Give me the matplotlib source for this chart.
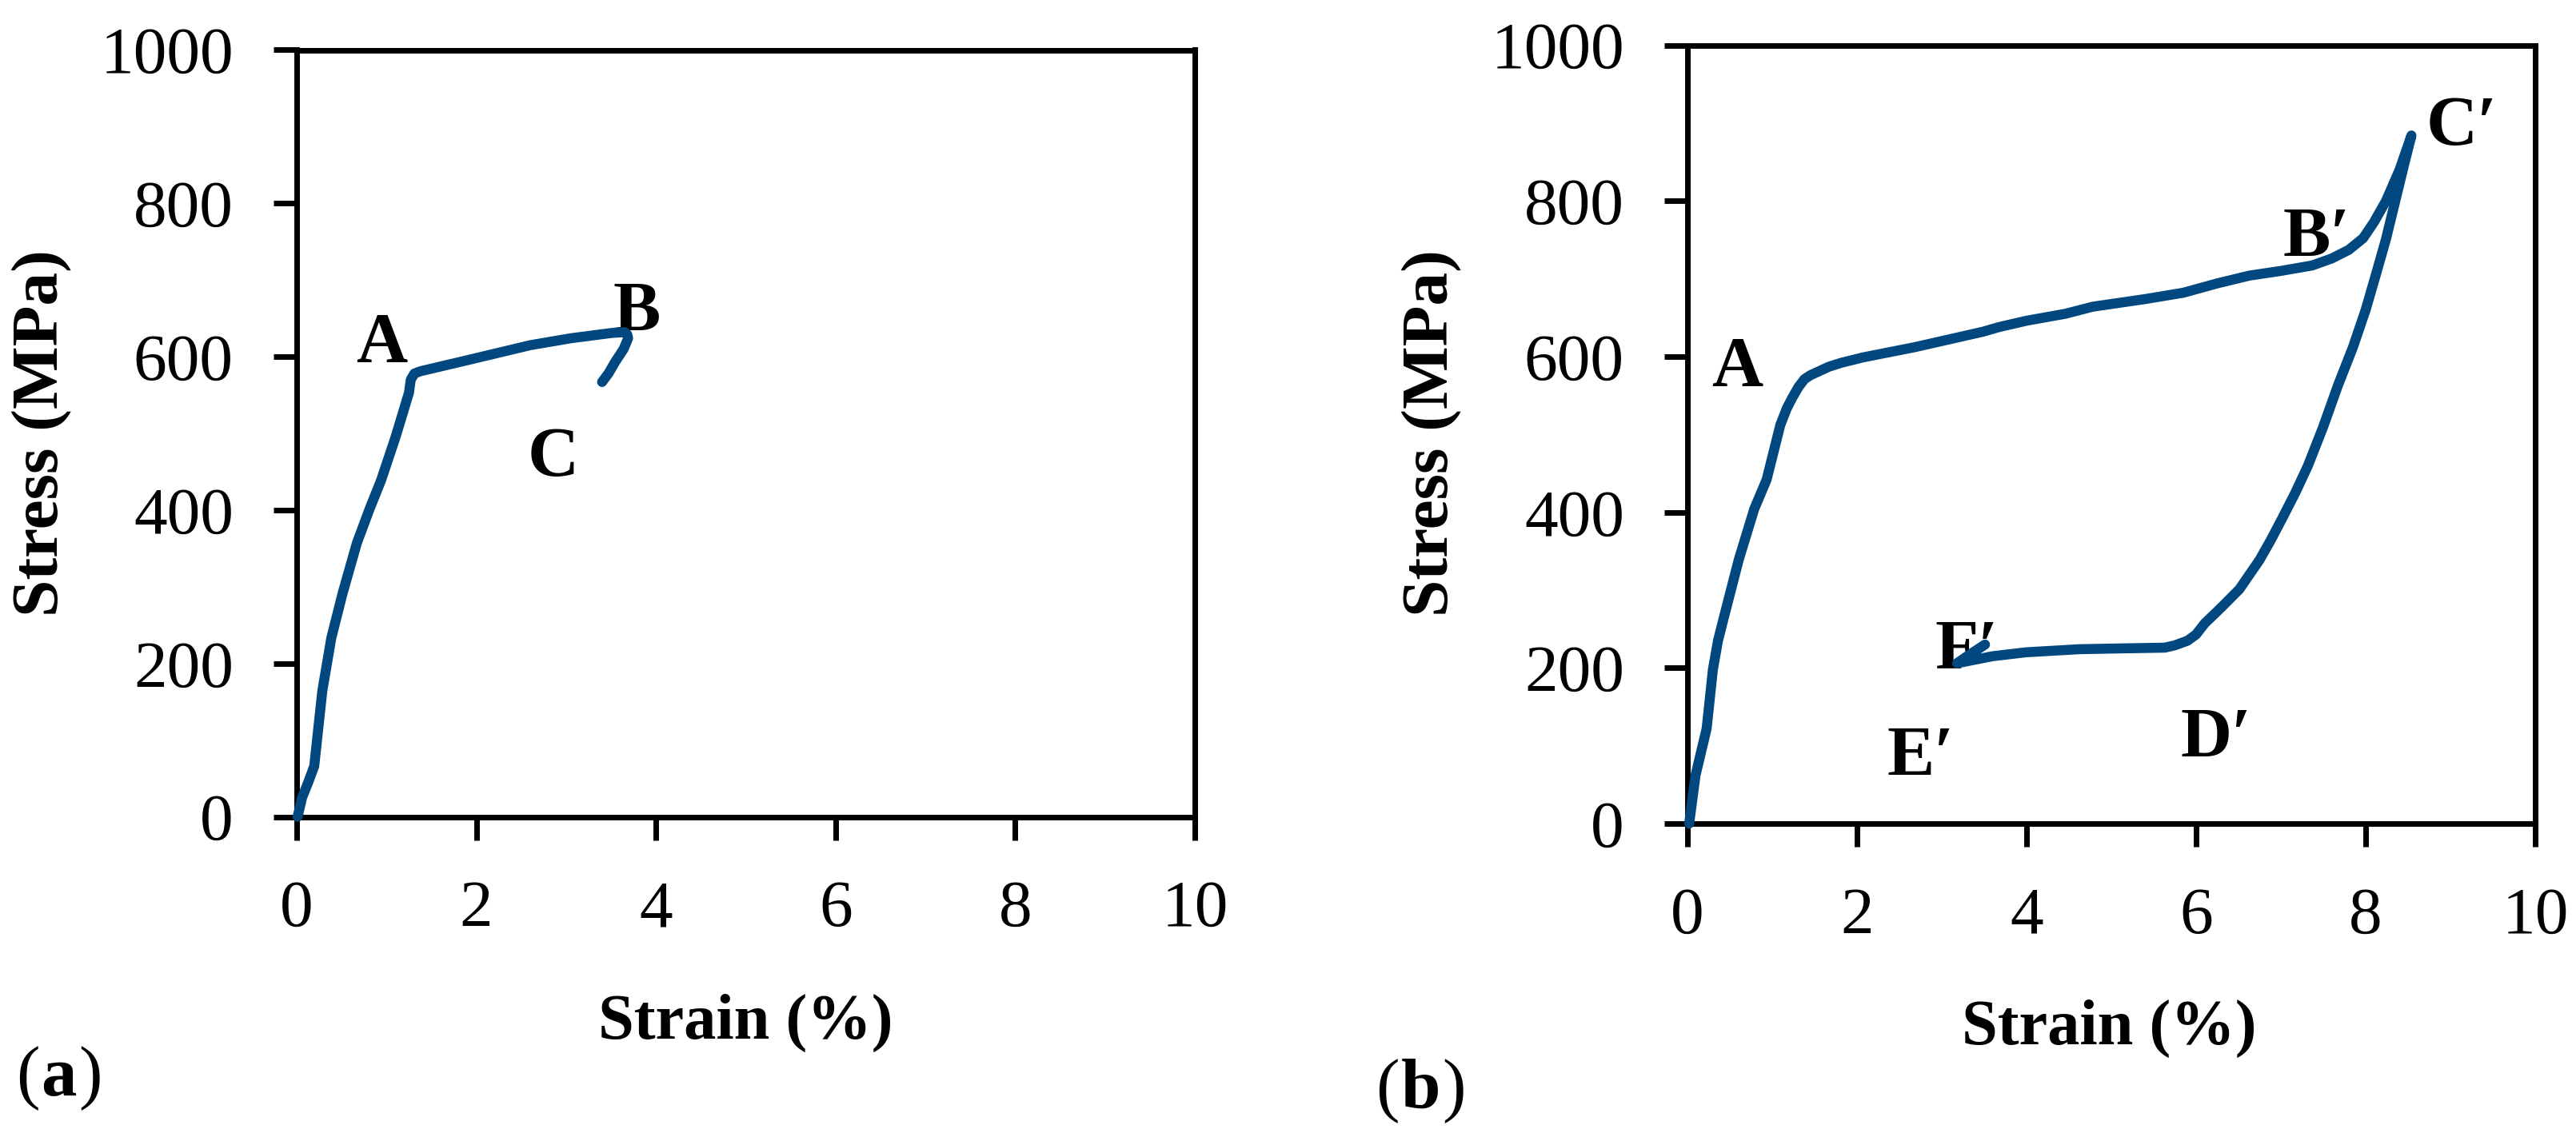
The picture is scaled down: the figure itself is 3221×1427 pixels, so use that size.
import matplotlib
matplotlib.use('Agg')
import matplotlib.pyplot as plt

plt.rcParams['font.family'] = ['Liberation Serif', 'DejaVu Serif']

W, H = 3221, 1427
curve_color = '#00487F'

# panel (a)
strain_a = [0.01, 0.06, 0.125, 0.195, 0.285, 0.385, 0.51, 0.67, 0.81, 0.94, 1.1, 1.25, 1.27, 1.31, 1.376, 1.92, 2.6, 3.05,
            3.51, 3.65, 3.68, 3.69, 3.64, 3.55, 3.47, 3.4]
stress_a = [0, 25, 44, 66, 164, 233, 291, 357, 401, 439, 495, 553, 570, 578, 581, 596, 615, 624,
            631, 632, 629, 624, 610, 594, 578, 567]

# panel (b)
strain_b = [0.02, 0.095, 0.226, 0.30, 0.36, 0.425, 0.605, 0.787, 0.934, 1.095, 1.17, 1.236, 1.31, 1.38, 1.45, 1.53, 1.67, 1.815,
            2.075, 2.68, 3.49, 3.68, 4.0, 4.46, 4.78, 5.41, 5.85, 6.25, 6.63, 7.0, 7.37, 7.6, 7.8, 7.97, 8.1, 8.24, 8.4, 8.54,
            8.45, 8.39, 8.24, 8.12, 8.0, 7.85, 7.67, 7.5, 7.32, 7.17, 7.02, 6.88, 6.75, 6.51, 6.3, 6.1, 6.0, 5.9, 5.75, 5.63,
            5.1, 4.62, 3.99, 3.6, 3.18, 3.3, 3.51]
stress_b = [0, 62, 122, 198, 235, 263, 339, 404, 442, 512, 533, 547, 561, 571, 576, 580, 587, 592,
            599, 612, 632, 638, 646, 655, 664, 674, 682, 694, 704, 710, 717, 726, 737, 752, 773, 800, 840, 884,
            845, 818, 751, 705, 660, 612, 562, 510, 460, 425, 393, 364, 339, 301, 278, 257, 243, 235, 229, 226,
            225, 224, 220, 215, 206, 215, 230]

x_ticks = [0, 2, 4, 6, 8, 10]
y_ticks = [0, 200, 400, 600, 800, 1000]

# label, strain, stress, alignment
labels_a = [('A', 0.945, 594, 'center'), ('B', 3.79, 635, 'center'), ('C', 2.86, 445, 'center')]
labels_b = [('A', 0.585, 563, 'center'), ('B\u2032', 7.02, 729, 'left'), ('C\u2032', 8.71, 872, 'left'),
            ('F\u2032', 2.915, 200, 'left'), ('E\u2032', 2.35, 63, 'left'), ('D\u2032', 5.82, 86, 'left')]


def make_axes(fig, left, right, top, bottom):
    ax = fig.add_axes([left / W, 1 - bottom / H, (right - left) / W, (bottom - top) / H])
    ax.set_xlim(0, 10)
    ax.set_ylim(0, 1000)
    ax.set_xticks(x_ticks)
    ax.set_yticks(y_ticks)
    ax.tick_params(direction='out', length=21, width=5, labelsize=60, pad=36)
    for s in ax.spines.values():
        s.set_linewidth(5)
    return ax


def draw_panel(ax, strain, stress, labels):
    for txt, x, y, ha in labels:
        ax.text(x, y, txt, fontsize=64, fontweight='bold', ha=ha, va='baseline', zorder=3)
    ax.plot(strain, stress, color=curve_color, lw=9, solid_capstyle='round',
            solid_joinstyle='round', clip_on=False, zorder=4)


def fig_text(fig, x, y, s, **kw):
    return fig.text(x / W, 1 - y / H, s, **kw)


def panel_tag(fig, x, y, letter):
    # regular brackets, bold letter
    r = fig.canvas.get_renderer()
    for s, weight in [('(', 'normal'), (letter, 'bold'), (')', 'normal')]:
        t = fig_text(fig, x, y, s, fontsize=64, fontweight=weight, ha='left', va='baseline')
        x = t.get_window_extent(r).x1 + 2


fig = plt.figure(figsize=(W / 100, H / 100), dpi=100, facecolor='white')

ax1 = make_axes(fig, 371, 1494, 62.5, 1021.5)
draw_panel(ax1, strain_a, stress_a, labels_a)
ax2 = make_axes(fig, 2110, 3170, 56.5, 1030)
draw_panel(ax2, strain_b, stress_b, labels_b)

# the y labels run a little longer than the x labels in the original
fig_text(fig, 53, 542, 'Stress (MPa)', rotation=90, ha='center', va='center', fontsize=60, fontweight='bold')
fig_text(fig, 1791, 542, 'Stress (MPa)', rotation=90, ha='center', va='center', fontsize=60, fontweight='bold')
fig_text(fig, 932, 1299, 'Strain (%)', ha='center', va='baseline', fontsize=58, fontweight='bold')
fig_text(fig, 2637, 1306, 'Strain (%)', ha='center', va='baseline', fontsize=58, fontweight='bold')

panel_tag(fig, 20, 1370, 'a')
panel_tag(fig, 1720, 1386, 'b')

fig.savefig('out.png', dpi=100)
